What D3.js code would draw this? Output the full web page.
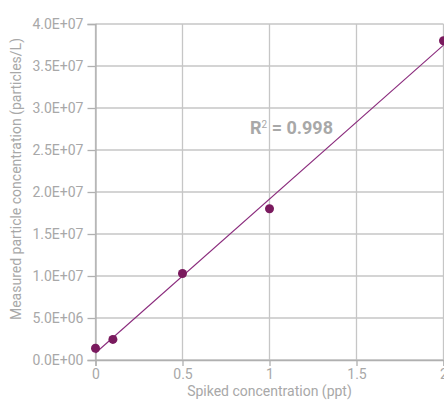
<!DOCTYPE html>
<html><head><meta charset="utf-8">
<script src="https://cdn.jsdelivr.net/npm/d3@7"></script>
<style>
html,body{margin:0;padding:0;background:#fff;}
svg text{font-family:Roboto,"Noto Sans",sans-serif;}
</style></head>
<body>
<svg id="c" width="444" height="402"></svg>
<script>
const spiked = [0, 0.1, 0.5, 1, 2];
const measured = [1.4e6, 2.45e6, 1.03e7, 1.8e7, 3.8e7];
const xTicks = [0, 0.5, 1, 1.5, 2];
const yTicks = [0, 5e6, 1e7, 1.5e7, 2e7, 2.5e7, 3e7, 3.5e7, 4e7];
const xTitle = "Spiked concentration (ppt)";
const yTitle = "Measured particle concentration (particles/L)";
const r2Label = "0.998";

const svg = d3.select("#c");
const x = d3.scaleLinear().domain([0, 2]).range([95.5, 443.5]);
const y = d3.scaleLinear().domain([0, 4e7]).range([360, 24]);
const gridColor = "#c6c6c6", textColor = "#a8a8a8";

// grid
svg.append("g").selectAll("line").data(yTicks).join("line")
  .attr("x1", x(0)).attr("x2", x(2)).attr("y1", d => y(d)).attr("y2", d => y(d))
  .attr("stroke", gridColor).attr("stroke-width", 1.3);
svg.append("g").selectAll("line").data(xTicks).join("line")
  .attr("y1", y(0)).attr("y2", y(4e7)).attr("x1", d => x(d)).attr("x2", d => x(d))
  .attr("stroke", gridColor).attr("stroke-width", 1.3);

// axes
const fmt = d => d.toExponential(1).toUpperCase().replace(/E([+-])(\d)$/, "E$10$2");
const yAxis = svg.append("g").attr("transform", `translate(${x(0)},0)`)
  .call(d3.axisLeft(y).tickValues(yTicks).tickFormat(fmt).tickSize(8).tickPadding(4));
const xAxis = svg.append("g").attr("transform", `translate(0,${y(0)})`)
  .call(d3.axisBottom(x).tickValues(xTicks).tickFormat(d3.format("")).tickSize(6).tickPadding(3));
[yAxis, xAxis].forEach(g => {
  g.select(".domain").attr("stroke", "#b0b0b0").attr("stroke-width", 1.3);
  g.selectAll(".tick line").attr("stroke", "#b0b0b0").attr("stroke-width", 1.3);
  g.selectAll(".tick text").attr("fill", textColor).attr("font-size", 14)
    .attr("font-family", "Roboto, sans-serif");
});

// trendline (least squares from data)
const mx = d3.mean(spiked), my = d3.mean(measured);
const slope = d3.sum(spiked.map((v, i) => (v - mx) * (measured[i] - my))) / d3.sum(spiked.map(v => (v - mx) ** 2));
const icpt = my - slope * mx;
svg.append("line")
  .attr("x1", x(0)).attr("y1", y(icpt)).attr("x2", x(2)).attr("y2", y(icpt + slope * 2))
  .attr("stroke", "#8a2a7c").attr("stroke-width", 1.1);

// points
svg.append("g").selectAll("circle").data(spiked).join("circle")
  .attr("cx", d => x(d)).attr("cy", (d, i) => y(measured[i])).attr("r", 4.5)
  .attr("fill", "#7a1a5e");

// R² label
const t = svg.append("text").attr("x", 250).attr("y", 134)
  .attr("fill", textColor).attr("font-size", 18).attr("font-weight", "bold");
t.append("tspan").text("R");
t.append("tspan").attr("font-size", 10).attr("font-weight", "normal").attr("dy", -6).text("2");
t.append("tspan").attr("dy", 6).text(" = " + r2Label);

// titles
svg.append("text").attr("x", (x(0) + x(2)) / 2).attr("y", 396).attr("text-anchor", "middle")
  .attr("fill", textColor).attr("font-size", 14).text(xTitle);
svg.append("text").attr("transform", "translate(21,179) rotate(-90)").attr("text-anchor", "middle")
  .attr("fill", textColor).attr("font-size", 14).text(yTitle);
</script>
</body></html>
